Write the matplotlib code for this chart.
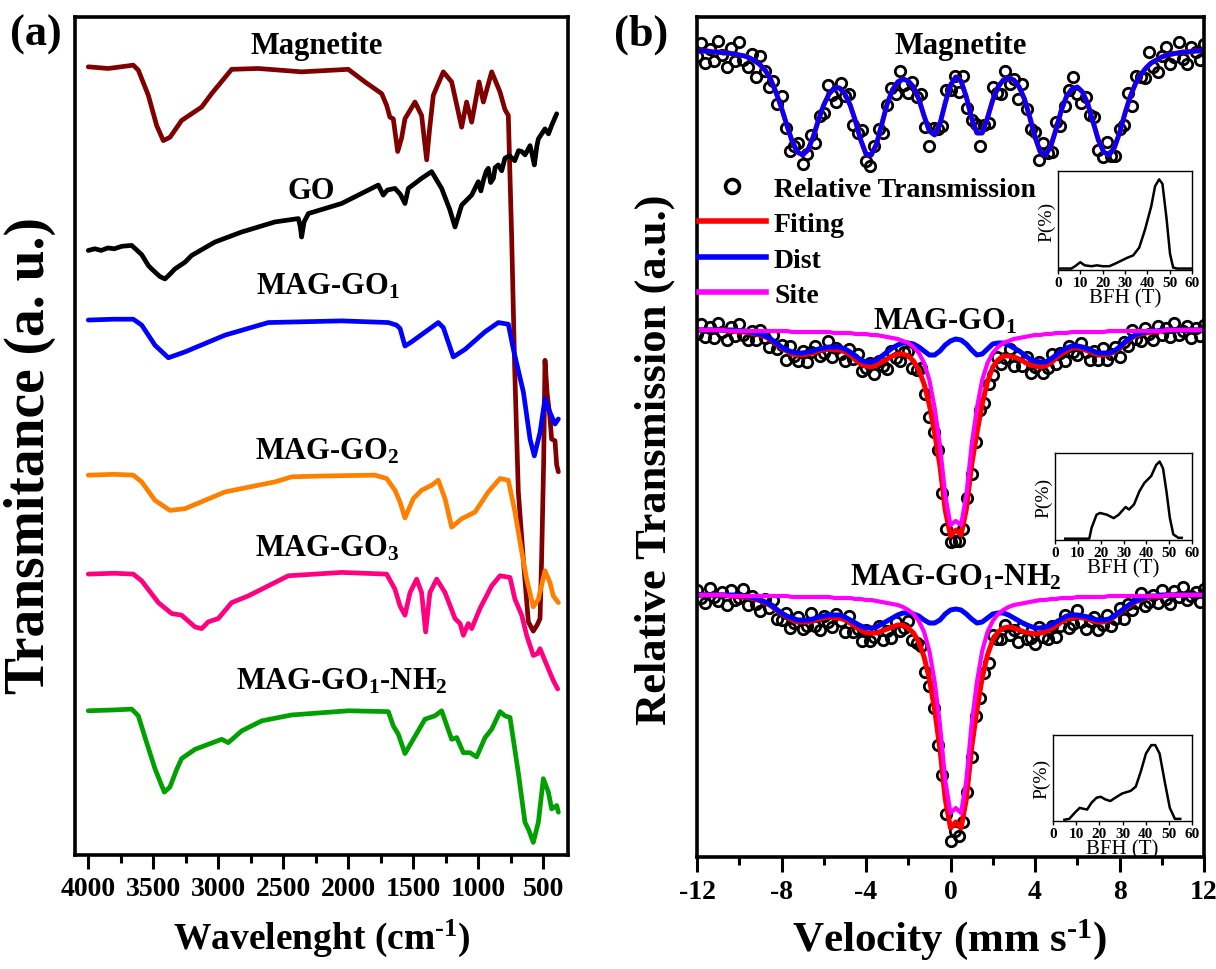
import matplotlib
matplotlib.use("Agg")
import matplotlib.pyplot as plt
import numpy as np
from matplotlib.ticker import MultipleLocator
from matplotlib.lines import Line2D

plt.rcParams['font.family'] = ['Liberation Serif', 'DejaVu Serif']
plt.rcParams['font.weight'] = 'bold'
plt.rcParams['mathtext.fontset'] = 'custom'
plt.rcParams['mathtext.rm'] = 'Liberation Serif:bold'
plt.rcParams['mathtext.bf'] = 'Liberation Serif:bold'
plt.rcParams['mathtext.it'] = 'Liberation Serif:italic:bold'
plt.rcParams['axes.unicode_minus'] = False

# ---------------- (a) FTIR spectra, stacked (a.u.) ----------------
mag_wn = [4000, 3846, 3700, 3654, 3615, 3538, 3474, 3423, 3371, 3282, 3128, 3051, 2897, 2692,
          2359, 2000, 1872, 1743, 1705, 1680, 1654, 1620, 1590, 1564, 1487, 1436, 1397, 1375,
          1346, 1269, 1205, 1128, 1090, 1051, 994, 961, 897, 833, 795, 769, 743, 720, 692, 654,
          615, 577, 545, 525, 513, 497, 487, 470, 449, 436, 410, 397, 384]
mag_t = [94.0, 93.8, 94.1, 94.2, 93.6, 90.6, 87.0, 85.2, 85.6, 87.6, 89.2, 90.8, 93.7, 93.8,
         93.4, 93.7, 92.2, 90.8, 89.4, 88.0, 87.8, 83.9, 85.5, 87.8, 89.8, 88.2, 82.9, 86.5,
         90.6, 93.4, 92.2, 86.8, 89.8, 87.4, 92.2, 89.8, 93.4, 91.0, 88.9, 88.2, 73.5, 58.0,
         43.3, 35.3, 27.8, 26.7, 27.5, 28.2, 35.3, 47.0, 59.0, 55.0, 52.2, 49.6, 49.4, 46.5, 45.7]

go_wn = [4000, 3950, 3900, 3850, 3800, 3740, 3666, 3589, 3538, 3513, 3450, 3410, 3370, 3333,
         3256, 3205, 3026, 2820, 2564, 2384, 2370, 2359, 2340, 2307, 2051, 1795, 1769, 1731,
         1700, 1641, 1600, 1564, 1538, 1436, 1359, 1282, 1220, 1179, 1128, 1051, 1000, 980,
         960, 940, 923, 905, 884, 870, 846, 820, 795, 760, 720, 690, 666, 640, 602, 585, 569,
         550, 538, 487, 460, 436, 397]
go_t = [72.1, 72.3, 72.1, 72.4, 72.3, 72.6, 72.7, 71.6, 70.3, 69.9, 69.0, 68.7, 69.3, 69.9,
        70.7, 71.5, 73.1, 74.3, 75.5, 75.9, 75.0, 73.7, 75.5, 76.5, 77.7, 79.7, 79.9, 78.7,
        79.3, 79.5, 78.8, 77.7, 79.5, 80.7, 81.5, 79.5, 77.0, 74.9, 77.5, 78.7, 80.3, 79.2,
        80.5, 81.5, 81.9, 80.2, 80.7, 82.0, 82.3, 81.6, 83.1, 83.4, 82.8, 84.0, 83.9, 83.5,
        84.6, 83.5, 82.3, 84.5, 85.4, 86.6, 86.0, 87.0, 88.4]

go1_wn = [4000, 3800, 3654, 3589, 3487, 3384, 3256, 2948, 2615, 2051, 1692, 1630, 1602, 1564,
          1513, 1308, 1269, 1192, 1102, 948, 846, 769, 730, 653, 602, 569, 525, 487, 449, 410, 384]
go1_t = [63.8, 63.9, 63.9, 63.2, 60.8, 59.3, 60.0, 62.0, 63.5, 63.7, 63.5, 63.2, 62.8, 60.7,
         61.2, 63.5, 62.9, 59.4, 60.3, 62.4, 63.5, 63.3, 60.3, 55.2, 49.6, 47.6, 50.4, 54.4,
         52.8, 51.4, 52.0]

go2_wn = [4000, 3800, 3654, 3589, 3487, 3372, 3256, 2948, 2564, 2436, 2200, 1795, 1705, 1641,
          1602, 1564, 1500, 1436, 1359, 1308, 1256, 1205, 1128, 1025, 923, 833, 769, 718, 679,
          628, 577, 538, 487, 449, 423, 384]
go2_t = [45.3, 45.4, 45.3, 44.5, 42.3, 41.1, 41.3, 43.3, 44.5, 45.1, 45.2, 45.3, 44.9, 43.5,
         42.1, 40.2, 42.5, 43.5, 44.1, 44.7, 42.5, 39.1, 40.1, 40.9, 43.3, 44.9, 44.7, 40.9,
         37.3, 32.9, 29.6, 30.5, 33.9, 32.5, 30.9, 30.1]

go3_wn = [4000, 3800, 3654, 3589, 3461, 3359, 3282, 3179, 3128, 3077, 3000, 2897, 2769, 2461,
          2051, 1705, 1641, 1602, 1564, 1525, 1474, 1436, 1405, 1372, 1320, 1256, 1179, 1140,
          1115, 1077, 1051, 987, 897, 833, 756, 718, 666, 628, 577, 545, 525, 461, 423, 389]
go3_t = [33.5, 33.6, 33.5, 32.7, 30.1, 28.8, 28.6, 27.2, 27.0, 27.8, 28.2, 30.1, 30.9, 33.3,
         33.7, 33.5, 31.7, 29.7, 28.6, 31.3, 32.9, 31.3, 26.6, 31.3, 32.9, 31.3, 28.2, 27.6,
         26.2, 27.6, 27.0, 29.4, 32.1, 33.3, 33.1, 30.5, 28.6, 26.2, 23.8, 24.0, 24.6, 22.2,
         20.8, 19.8]

nh2_wn = [4000, 3800, 3666, 3615, 3551, 3487, 3415, 3372, 3320, 3282, 3179, 3077, 2974, 2923,
          2820, 2666, 2436, 1999, 1692, 1654, 1615, 1564, 1410, 1333, 1282, 1205, 1166, 1115,
          1064, 1013, 948, 897, 833, 795, 756, 692, 641, 610, 577, 538, 500, 461, 436, 397, 384]
nh2_t = [17.2, 17.3, 17.4, 16.6, 13.4, 10.3, 7.5, 8.1, 10.2, 11.5, 12.6, 13.2, 13.8, 13.4,
         14.8, 16.0, 16.7, 17.2, 17.1, 15.4, 14.4, 12.1, 16.2, 16.6, 17.2, 13.8, 14.0, 12.2,
         12.2, 11.7, 14.0, 15.0, 17.1, 16.6, 16.4, 9.8, 3.9, 2.9, 1.5, 3.9, 9.1, 7.5, 5.5,
         5.9, 5.1]

ftir_names = ['Magnetite', 'GO', 'MAG-GO$_1$', 'MAG-GO$_2$', 'MAG-GO$_3$', 'MAG-GO$_1$-NH$_2$']
ftir_colors = ['#800000', '#000000', '#0000ff', '#ff8000', '#ff0080', '#00a000']
ftir_label_xy = [(2241, 96.6), (2286, 79.3), (2157, 67.9), (2165, 48.2), (2165, 36.7), (2049, 20.8)]

# ---------------- (b) Mossbauer spectra (absorption, per mille) ----------------
vel = np.linspace(-12, 12, 97)
vel_pts = np.linspace(-12, 12, 121)

mag_fit = [0, 0, 0, 1, 1, 2, 2, 3, 4, 5,
           7, 10, 14, 20, 29, 42, 57, 74, 90, 101,
           104, 99, 86, 69, 54, 43, 37, 37, 43, 54,
           70, 89, 103, 104, 93, 73, 53, 39, 31, 28,
           30, 36, 48, 65, 80, 84, 73, 52, 34, 26,
           30, 46, 67, 82, 82, 67, 49, 36, 29, 27,
           29, 36, 48, 66, 86, 101, 104, 95, 78, 59,
           45, 38, 36, 41, 53, 71, 89, 101, 104, 97,
           82, 63, 46, 33, 24, 17, 12, 9, 6, 4,
           3, 2, 1, 1, 0, 0, 0]
mag_pts = [5, -8, 12, -2, 10, -10, 4, 16, -3, 10,
           -9, 9, 16, 3, 26, 5, 20, 36, 30, 53,
           45, 77, 100, 95, 92, 113, 103, 84, 92, 65,
           62, 34, 44, 51, 32, 45, 43, 74, 82, 79,
           110, 115, 95, 78, 82, 54, 37, 43, 20, 34,
           42, 31, 46, 43, 76, 95, 77, 78, 75, 39,
           39, 25, 41, 25, 57, 69, 73, 95, 74, 72,
           36, 42, 43, 20, 33, 28, 48, 33, 58, 78,
           81, 109, 92, 102, 101, 71, 75, 55, 39, 26,
           43, 52, 46, 64, 66, 99, 106, 91, 105, 105,
           78, 74, 42, 55, 25, 26, 27, 1, 16, 21,
           5, -4, 13, 6, -9, 8, 13, -4, 1, 9,
           -7]

go1_fit = [0, 0, 0, 0, 0, 0, 1, 1, 2, 2,
           3, 4, 5, 7, 10, 14, 18, 21, 24, 25,
           25, 24, 23, 21, 20, 19, 20, 20, 22, 25,
           30, 34, 36, 37, 35, 32, 29, 26, 24, 24,
           26, 31, 40, 54, 75, 103, 136, 180, 206, 200,
           205, 179, 135, 103, 74, 52, 37, 30, 26, 26,
           27, 29, 32, 35, 36, 37, 36, 33, 28, 24,
           21, 18, 18, 19, 21, 23, 25, 25, 24, 22,
           18, 13, 9, 6, 4, 3, 2, 2, 1, 0,
           0, 0, 0, 0, 0, 0, 0]
go1_dist = [0, 0, 0, 0, 0, 0, 0, 0, 1, 1,
            2, 3, 4, 6, 9, 13, 17, 20, 22, 23,
            23, 22, 21, 19, 18, 17, 17, 17, 19, 22,
            26, 30, 32, 32, 30, 26, 22, 18, 15, 13,
            13, 14, 17, 21, 25, 25, 21, 15, 11, 9,
            10, 14, 20, 25, 24, 19, 14, 13, 13, 15,
            18, 21, 25, 29, 31, 32, 32, 29, 25, 21,
            18, 16, 16, 17, 19, 21, 23, 23, 23, 21,
            17, 12, 8, 5, 3, 2, 1, 1, 0, 0,
            0, 0, 0, 0, 0, 0, 0]
go1_site = [0, 0, 0, 0, 0, 0, 1, 1, 1, 1,
            1, 1, 1, 1, 1, 1, 1, 1, 2, 2,
            2, 2, 2, 2, 2, 2, 3, 3, 3, 3,
            4, 4, 4, 5, 5, 6, 7, 8, 9, 11,
            13, 17, 23, 33, 50, 78, 115, 165, 195, 191,
            195, 165, 115, 78, 50, 33, 23, 17, 13, 11,
            9, 8, 7, 6, 5, 5, 4, 4, 3, 3,
            3, 2, 2, 2, 2, 2, 2, 2, 1, 1,
            1, 1, 1, 1, 1, 1, 1, 1, 1, 0,
            0, 0, 0, 0, 0, 0, 0]
go1_pts = [4, -6, 7, -3, 8, -7, 2, 10, -3, 6,
           -6, 5, 10, 1, 10, 0, 8, 17, 5, 19,
           15, 30, 16, 26, 31, 21, 32, 22, 16, 26,
           23, 11, 27, 18, 24, 31, 19, 29, 24, 41,
           38, 33, 44, 31, 36, 39, 21, 28, 31, 22,
           21, 38, 40, 38, 64, 87, 102, 120, 163, 199,
           212, 211, 211, 199, 168, 144, 112, 80, 73, 54,
           45, 27, 34, 28, 19, 36, 26, 36, 27, 43,
           37, 32, 43, 38, 24, 34, 23, 31, 16, 22,
           25, 13, 22, 30, 21, 30, 18, 30, 24, 17,
           27, 12, 16, 0, 9, 11, -2, 4, 10, -4,
           5, -2, 7, -7, 5, 1, -4, 8, -2, 6,
           -5]

nh2_fit = [0, 0, 0, 0, 0, 0, 1, 1, 2, 2,
           3, 4, 6, 8, 11, 15, 19, 22, 25, 27,
           27, 27, 26, 24, 23, 22, 23, 23, 25, 28,
           32, 35, 38, 38, 38, 36, 34, 32, 30, 30,
           33, 38, 47, 62, 84, 115, 154, 204, 233, 227,
           233, 204, 153, 115, 83, 60, 45, 37, 33, 32,
           33, 35, 37, 38, 39, 38, 37, 34, 31, 27,
           24, 23, 22, 23, 24, 26, 27, 27, 25, 22,
           18, 14, 10, 7, 5, 3, 2, 2, 1, 0,
           0, 0, 0, 0, 0, 0, 0]
nh2_dist = [0, 0, 0, 0, 0, 0, 0, 0, 1, 1,
            2, 3, 5, 7, 10, 14, 18, 21, 23, 25,
            25, 25, 24, 22, 21, 20, 20, 20, 22, 25,
            28, 31, 33, 33, 32, 29, 26, 23, 20, 18,
            18, 19, 21, 25, 28, 28, 25, 19, 15, 14,
            15, 19, 24, 28, 27, 23, 19, 18, 18, 20,
            23, 26, 29, 31, 33, 33, 32, 30, 27, 24,
            21, 20, 20, 21, 22, 24, 25, 25, 24, 21,
            17, 13, 9, 6, 4, 2, 1, 1, 0, 0,
            0, 0, 0, 0, 0, 0, 0]
nh2_site = [0, 0, 0, 0, 0, 0, 1, 1, 1, 1,
            1, 1, 1, 1, 1, 1, 1, 1, 2, 2,
            2, 2, 2, 2, 2, 2, 3, 3, 3, 3,
            4, 4, 5, 5, 6, 7, 8, 9, 10, 12,
            15, 19, 26, 37, 56, 87, 129, 185, 218, 213,
            218, 185, 129, 87, 56, 37, 26, 19, 15, 12,
            10, 9, 8, 7, 6, 5, 5, 4, 4, 3,
            3, 3, 2, 2, 2, 2, 2, 2, 1, 1,
            1, 1, 1, 1, 1, 1, 1, 1, 1, 0,
            0, 0, 0, 0, 0, 0, 0]
nh2_pts = [-5, 3, 8, -7, 2, 6, -3, 10, -5, 5,
           3, -6, 10, 1, 9, 16, 4, 13, 5, 24,
           25, 18, 33, 28, 22, 34, 31, 18, 31, 35,
           21, 27, 32, 19, 26, 37, 21, 37, 34, 46,
           35, 46, 42, 31, 45, 36, 43, 27, 36, 33,
           26, 45, 48, 51, 77, 91, 113, 150, 180, 219,
           246, 236, 241, 227, 197, 162, 121, 103, 78, 68,
           40, 44, 44, 30, 40, 35, 47, 32, 44, 43,
           49, 32, 42, 44, 31, 42, 31, 20, 33, 29,
           15, 27, 34, 26, 22, 35, 30, 20, 31, 24,
           13, 24, 9, 15, 8, -2, 11, 7, 0, 8,
           -5, 4, 9, -4, 2, -8, 5, 1, -3, 7,
           -6]

# vertical offsets of the three stacked spectra
mos_base = [0, -279, -544]
mos_names = ['Magnetite', 'MAG-GO$_1$', 'MAG-GO$_1$-NH$_2$']
mos_label_xy = [(0.46, 5), (-0.25, -270), (0.27, -526)]

# hyperfine field distributions for the insets
bfh1 = [0, 6, 7.7, 10, 12, 15, 17.5, 20, 23, 25.6, 28.3, 31, 33.7, 36.4, 39, 41.8, 43.5, 45.3,
        46.8, 48.6, 50.2, 51.6, 53.4, 59.7]
p1 = [0, 0, 0.24, 0.65, 0.33, 0.24, 0.33, 0.24, 0.24, 0.5, 0.8, 1.1, 1.35, 2.15, 4.0, 6.4,
      8.45, 9.15, 8.7, 5.2, 1.5, 0.1, 0, 0]
bfh2 = [4.5, 15, 16, 18.2, 19.7, 22.7, 25.7, 27.9, 30.9, 32.4, 34.6, 36.9, 39.1, 42.1, 44.3,
        45.8, 47.3, 48.8, 50.3, 51.8, 54, 55.5]
p2 = [0, 0, 1.25, 2.8, 3.0, 2.8, 2.4, 2.8, 3.7, 3.4, 4.0, 5.5, 6.5, 7.3, 8.6, 9.0, 8.2, 5.5,
      2.4, 0.5, 0.1, 0.1]
bfh3 = [4.9, 7, 9.3, 11.5, 12.9, 14.7, 16.6, 18.8, 20.6, 22.5, 24.7, 26.9, 29.9, 33.5, 35.7,
        37.9, 40.1, 42.4, 44.1, 46, 48.2, 50.4, 52.6, 54.9]
p3 = [0, 0.1, 0.8, 1.4, 1.3, 1.2, 2.0, 2.6, 2.7, 2.4, 2.2, 2.6, 3.1, 3.4, 3.9, 5.7, 7.8, 8.8,
      8.8, 7.8, 4.5, 1.4, 0.1, 0.1]
inset_boxes = [[0.870, 0.7206, 0.1102, 0.1020],
               [0.8676, 0.4423, 0.1127, 0.0897],
               [0.8660, 0.1526, 0.1143, 0.0887]]

W, H = 1216, 970
fig = plt.figure(figsize=(W / 100, H / 100), dpi=100)

# ---- panel (a)
ax1 = fig.add_axes([75 / W, 1 - 856 / H, 493 / W, 838.5 / H])
curves = [(mag_wn, mag_t), (go_wn, go_t), (go1_wn, go1_t), (go2_wn, go2_t),
          (go3_wn, go3_t), (nh2_wn, nh2_t)]
for (wn, t), c in zip(curves, ftir_colors):
    ax1.plot(wn, t, color=c, lw=3.4, solid_joinstyle='round', solid_capstyle='round')
for name, (x, y) in zip(ftir_names, ftir_label_xy):
    ax1.text(x, y, name, ha='center', va='center', fontsize=22)
ax1.set_xlim(4102, 310)
ax1.set_ylim(0, 100)
ax1.xaxis.set_major_locator(MultipleLocator(500))
ax1.xaxis.set_minor_locator(MultipleLocator(250))
ax1.tick_params(axis='x', which='major', direction='out', length=10, width=2.2,
                labelsize=20, pad=5)
ax1.tick_params(axis='x', which='minor', direction='out', length=6, width=2.2)
ax1.tick_params(axis='y', which='both', left=False, labelleft=False)
for s in ax1.spines.values():
    s.set_linewidth(2.6)

# ---- panel (b)
ax2 = fig.add_axes([697 / W, 1 - 858 / H, 507 / W, 840.5 / H])
mos_sets = [(mag_pts, mag_fit, None, None),
            (go1_pts, go1_fit, go1_dist, go1_site),
            (nh2_pts, nh2_fit, nh2_dist, nh2_site)]
for base, (pts, fit, dist, site) in zip(mos_base, mos_sets):
    ax2.plot(vel_pts, base - np.array(pts), ls='none', marker='o', mfc='none', mec='k',
             ms=7.5, mew=2.0)
    ax2.plot(vel, base - np.array(fit), color='#ff0000', lw=3.6)
    if dist is None:
        ax2.plot(vel, base - np.array(fit), color='#0000ff', lw=3.2)
    else:
        ax2.plot(vel, base - np.array(dist), color='#0000ff', lw=3.6)
        ax2.plot(vel, base - np.array(site), color='#ff00ff', lw=3.0)
for name, (x, y) in zip(mos_names, mos_label_xy):
    ax2.text(x, y, name, ha='center', va='center', fontsize=22)
ax2.set_xlim(-12, 12)
ax2.set_ylim(-806, 34.5)
ax2.xaxis.set_major_locator(MultipleLocator(4))
ax2.xaxis.set_minor_locator(MultipleLocator(2))
ax2.tick_params(axis='x', which='major', direction='out', length=11, width=2.2,
                labelsize=20, pad=5)
ax2.tick_params(axis='x', which='minor', direction='out', length=6, width=2.2)
ax2.tick_params(axis='y', which='both', left=False, labelleft=False)
for s in ax2.spines.values():
    s.set_linewidth(2.6)

handles = [Line2D([], [], ls='none', marker='o', mfc='none', mec='k', ms=10, mew=2.6),
           Line2D([], [], color='#ff0000', lw=4),
           Line2D([], [], color='#0000ff', lw=4),
           Line2D([], [], color='#ff00ff', lw=4)]
ax2.legend(handles, ['Relative Transmission', 'Fiting', 'Dist', 'Site'],
           loc='upper left', bbox_to_anchor=(0.004, 0.81), frameon=False, fontsize=20,
           handlelength=2.4, handletextpad=0.3, labelspacing=0.36, borderaxespad=0,
           borderpad=0)

for box, bx, py in zip(inset_boxes, [bfh1, bfh2, bfh3], [p1, p2, p3]):
    axi = fig.add_axes(box)
    axi.plot(bx, py, color='k', lw=1.8)
    axi.set_xlim(0, 60)
    axi.set_ylim(-0.15, 10)
    axi.set_xticks([0, 10, 20, 30, 40, 50, 60])
    axi.tick_params(axis='x', direction='out', length=3, width=1, labelsize=11, pad=1)
    axi.tick_params(axis='y', left=False, labelleft=False)
    axi.set_xlabel('BFH (T)', fontsize=15, labelpad=0)
    axi.set_ylabel('P(%)', fontsize=14, labelpad=2)
    for s in axi.spines.values():
        s.set_linewidth(1.0)

# panel tags and axis titles
fig.text(36 / W, 1 - 35 / H, '(a)', ha='center', va='center', fontsize=32)
fig.text(641 / W, 1 - 35 / H, '(b)', ha='center', va='center', fontsize=32)
fig.text(30 / W, 1 - 455 / H, 'Transmitance (a. u.)', rotation=90, ha='center', va='center',
         fontsize=40)
fig.text(655 / W, 1 - 460 / H, 'Relative Transmission (a.u.)', rotation=90, ha='center',
         va='center', fontsize=32)
fig.text(322 / W, 1 - 938 / H, 'Wavelenght (cm$^{\u20101}$)', ha='center', va='center',
         fontsize=27)
fig.text(950 / W, 1 - 940 / H, 'Velocity (mm s$^{\u20101}$)', ha='center', va='center',
         fontsize=31)

fig.savefig('out.png', dpi=100)
